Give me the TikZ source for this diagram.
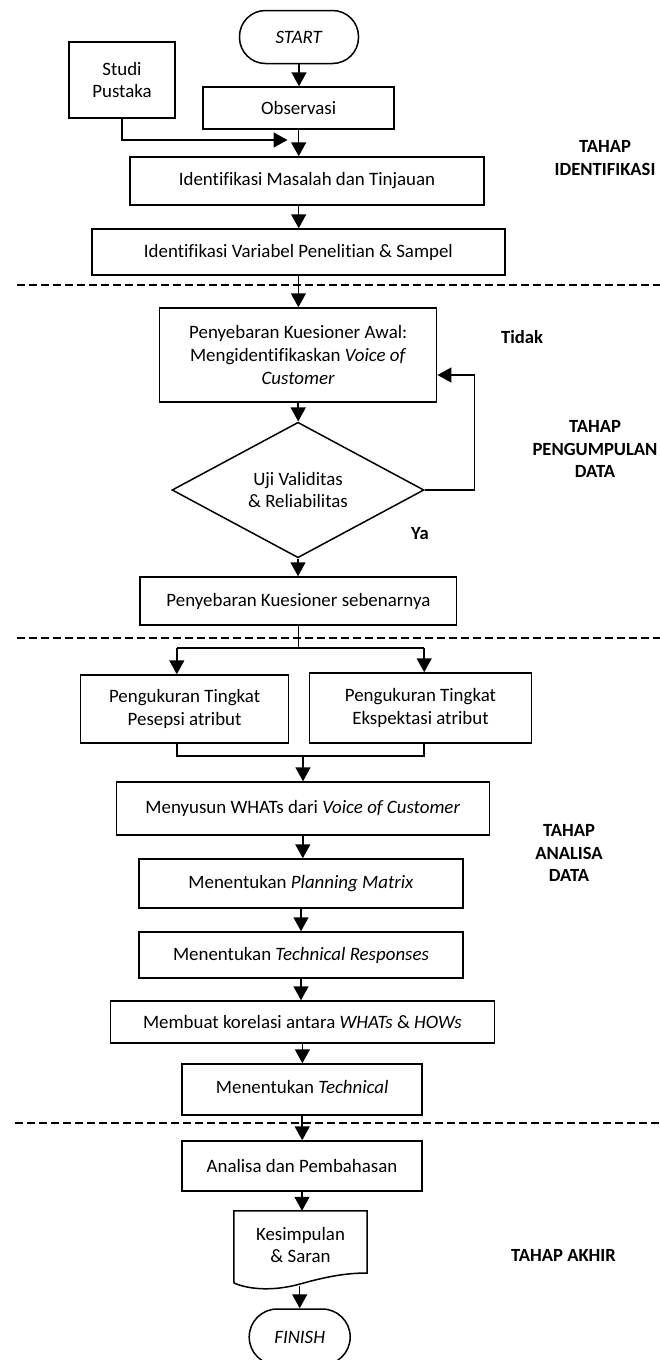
\documentclass[tikz,border=0pt]{standalone}
\usepackage{fontspec}
\setmainfont[Ligatures=NoCommon]{Carlito}
\usetikzlibrary{arrows.meta,shapes.geometric}
\begin{document}
\begin{tikzpicture}[x=1pt,y=-1pt,
  every node/.style={font=\fontsize{18.9}{22.6}\selectfont},
  box/.style={draw, line width=1.5pt, rectangle, inner sep=0pt, align=center},
  term/.style={box, rounded corners=26pt},
  dec/.style={draw, line width=1.5pt, diamond, inner sep=0pt, align=center},
  lbl/.style={font=\fontsize{18.6}{22.6}\selectfont\bfseries, align=center},
  arr/.style={line width=1.5pt, -{Triangle[length=14pt,width=15pt]}},
  ln/.style={line width=1.5pt},
  sep/.style={line width=1.4pt, dash pattern=on 7.5pt off 4.5pt}]
\useasboundingbox (0,0) rectangle (660,1360);

% separators
\draw[sep] (17,285) -- (660,285);
\draw[sep] (17,638) -- (660,638);
\draw[sep] (15,1123) -- (660,1123);

% nodes
\node[term, minimum width=119pt, minimum height=53pt] (start) at (299,37) {\textit{START}};
\node[box, minimum width=106pt, minimum height=76pt] (studi) at (122,80) {Studi\\Pustaka};
\node[box, minimum width=191pt, minimum height=42pt] (obs) at (298.7,108) {Observasi};
\node[box, minimum width=354pt, minimum height=48pt] (idm) at (307,181) {Identifikasi Masalah dan Tinjauan};
\node[box, minimum width=413pt, minimum height=46pt] (idv) at (298.4,252) {Identifikasi Variabel Penelitian \& Sampel};
\node[box, minimum width=277pt, minimum height=94pt] (awal) at (298.2,355) {Penyebaran Kuesioner Awal:\\Mengidentifikaskan \textit{Voice of}\\\textit{Customer}};
\node[dec, minimum width=252pt, minimum height=126pt] (uji) at (298,490) {Uji Validitas\\\& Reliabilitas};
\node[box, minimum width=316.5pt, minimum height=48pt] (seb) at (298.4,601) {Penyebaran Kuesioner sebenarnya};
\node[box, minimum width=208pt, minimum height=68pt] (pers) at (184.6,709) {Pengukuran Tingkat\\Pesepsi atribut};
\node[box, minimum width=222pt, minimum height=70pt] (eksp) at (420.5,708) {Pengukuran Tingkat\\Ekspektasi atribut};
\node[box, minimum width=373pt, minimum height=53pt] (whats) at (302.8,808.5) {Menyusun WHATs dari \textit{Voice of Customer}};
\node[box, minimum width=324pt, minimum height=49pt] (plan) at (301,883.5) {Menentukan \textit{Planning Matrix}};
\node[box, minimum width=324pt, minimum height=46pt] (tresp) at (301,955) {Menentukan \textit{Technical Responses}};
\node[box, minimum width=384pt, minimum height=42pt] (korel) at (302.4,1022) {Membuat korelasi antara \textit{WHATs} \& \textit{HOWs}};
\node[box, minimum width=240pt, minimum height=51pt] (timp) at (302.2,1089.5) {};
\node (timptext) at (302.2,1087) {Menentukan \textit{Technical}};
\node[box, minimum width=240pt, minimum height=50pt] (anl) at (302,1166) {Analisa dan Pembahasan};
\node[inner sep=0pt, minimum width=133pt, minimum height=68pt, align=center] (kes) at (300.5,1245) {Kesimpulan\\\& Saran};
\draw[ln, line join=miter] (kes.north west) -- (kes.north east) -- (367,1273)
  .. controls (345,1273) and (325,1277) .. (300,1284)
  .. controls (275,1291) and (250,1290) .. (234,1283) -- cycle;
\node[term, rounded corners=28pt, minimum width=101pt, minimum height=56pt] (fin) at (299.7,1337) {\textit{FINISH}};

% labels
\node[lbl] (l1) at (605,158) {TAHAP\\IDENTIFIKASI};
\node[lbl] (tidak) at (522,337) {Tidak};
\node[lbl] (l2) at (595,449) {TAHAP\\PENGUMPULAN\\DATA};
\node[lbl] (ya) at (420,534) {Ya};
\node[lbl] (l3) at (569,853) {TAHAP\\ANALISA\\DATA};
\node[lbl] (l4) at (563.5,1255) {TAHAP AKHIR};

% connectors
\coordinate (j1) at (287.5,140);
\draw[arr] (start.south) -- (start.south |- obs.north);
\draw[arr] (studi.south) |- (j1);
\draw[arr] (obs.south) -- (obs.south |- idm.north);
\draw[arr] (obs.south |- idm.south) -- (obs.south |- idv.north);
\draw[arr] (idv.south) -- (idv.south |- awal.north);
\draw[arr] (awal.south) -- (awal.south |- uji.north);
\coordinate (fbt) at (474.3,490);
\draw[arr] (uji.east) -- (fbt) |- ([yshift=-20pt]awal.east);
\draw[arr] (uji.south) -- (uji.south |- seb.north);
\coordinate (spl) at (298.8,648);
\coordinate (splL) at (176.8,648);
\coordinate (splR) at (424.2,648);
\draw[ln] (seb.south) -- (seb.south |- spl);
\draw[ln] (splL) -- (splR);
\draw[arr] (splL) -- (splL |- pers.north);
\draw[arr] (splR) -- (splR |- eksp.north);
\coordinate (mL) at (176.8,756);
\coordinate (mR) at (424.2,756);
\coordinate (mC) at (303,756);
\draw[ln] (pers.south -| mL) -- (mL) -- (mR) -- (eksp.south -| mR);
\draw[arr] (mC) -- (mC |- whats.north);
\draw[arr] (whats.south) -- (whats.south |- plan.north);
\draw[arr] (plan.south) -- (plan.south |- tresp.north);
\draw[arr] (tresp.south) -- (tresp.south |- korel.north);
\draw[arr] (korel.south) -- (korel.south |- timp.north);
\draw[arr] (timp.south) -- (timp.south |- anl.north);
\draw[arr] (anl.south) -- (anl.south |- kes.north);
\coordinate (kb) at (299.7,1286);
\draw[arr] (kb) -- (kb |- fin.north);
\end{tikzpicture}
\end{document}
